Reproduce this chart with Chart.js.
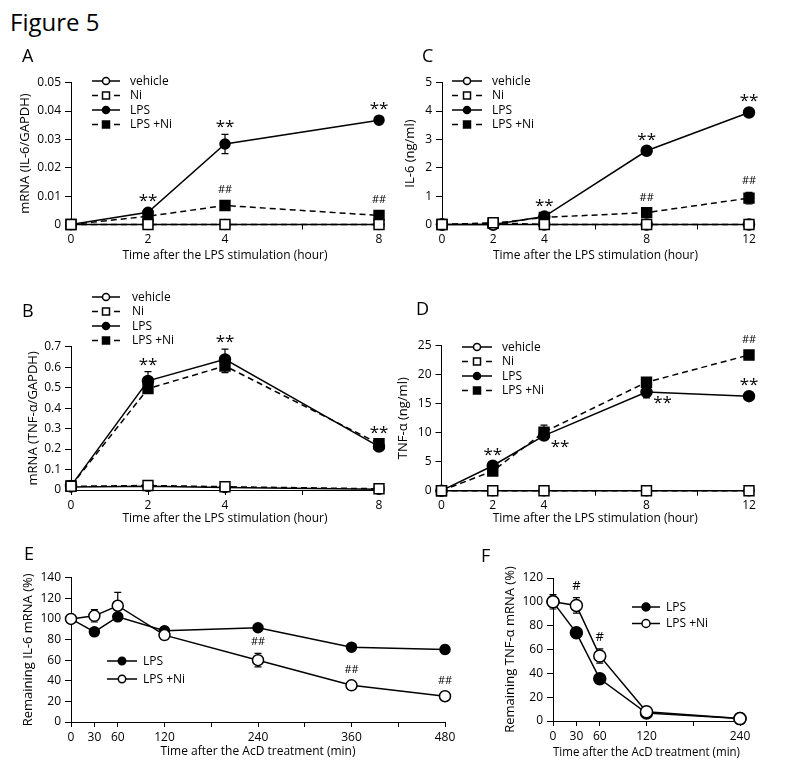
<!DOCTYPE html>
<html><head><meta charset="utf-8">
<script src="https://cdn.jsdelivr.net/npm/chart.js@4.4.1/dist/chart.umd.min.js"></script>
<style>
html,body{margin:0;padding:0;background:#fff;}
body{width:790px;height:765px;position:relative;overflow:hidden;font-family:'Open Sans','DejaVu Sans',sans-serif;color:#000;}
canvas{position:absolute;}
.lbl{position:absolute;line-height:20px;z-index:2;}
</style></head><body>
<div class="lbl" style="left:10px;top:8px;font-size:24px;line-height:28px;">Figure 5</div>
<div class="lbl" style="left:22px;top:45px;font-size:18px;">A</div>
<div class="lbl" style="left:422px;top:45px;font-size:18px;">C</div>
<div class="lbl" style="left:22px;top:300px;font-size:18px;">B</div>
<div class="lbl" style="left:416px;top:298px;font-size:18px;">D</div>
<div class="lbl" style="left:24px;top:543px;font-size:18px;">E</div>
<div class="lbl" style="left:481px;top:545px;font-size:18px;">F</div>
<script>
// ---------------- DATA ----------------
// Panel A: IL-6 mRNA (IL-6/GAPDH)
const hoursAB = [0, 2, 4, 8];
const aVehicle = [0, 0, 0, 0];
const aNi = [0, 0, 0, 0];
const aLPS = [0, 0.0043, 0.0284, 0.0368];
const aLPSErr = [0, 0.0004, 0.0034, 0.0008];
const aLPSNi = [0, 0.0029, 0.0067, 0.0032];
const aLPSNiErr = [0, 0.0003, 0.0006, 0.0004];
const aLPSMarks = ['', '**', '**', '**'];
const aLPSNiMarks = ['', '', '##', '##'];

// Panel B: TNF-α mRNA (TNF-α/GAPDH)
const bVehicle = [0.015, 0.018, 0.012, 0.004];
const bNi = [0.018, 0.022, 0.016, 0.006];
const bLPS = [0.02, 0.533, 0.638, 0.212];
const bLPSErr = [0, 0.045, 0.05, 0.01];
const bLPSNi = [0.02, 0.495, 0.606, 0.226];
const bLPSNiErr = [0, 0.02, 0.033, 0.01];
const bLPSMarks = ['', '**', '**', ''];
const bLPSNiMarks = ['', '', '', '**'];

// Panel C: IL-6 (ng/ml)
const hoursCD = [0, 2, 4, 8, 12];
const cVehicle = [0, 0, 0, 0, 0];
const cNi = [0, 0.06, 0, 0, 0];
const cLPS = [0, 0, 0.28, 2.6, 3.95];
const cLPSErr = [0, 0, 0.05, 0.05, 0.06];
const cLPSNi = [0, 0.04, 0.25, 0.42, 0.93];
const cLPSNiErr = [0, 0, 0.03, 0.05, 0.2];
const cLPSMarks = ['', '', '**', '**', '**'];
const cLPSNiMarks = ['', '', '', '##', '##'];

// Panel D: TNF-α (ng/ml)
const dVehicle = [0, 0, 0, 0, 0];
const dNi = [0, 0, 0, 0, 0];
const dLPS = [0, 4.3, 9.5, 17.0, 16.3];
const dLPSErr = [0, 0.5, 0.5, 1.0, 0.4];
const dLPSNi = [0, 3.4, 10.1, 18.7, 23.4];
const dLPSNiErr = [0, 0.4, 1.2, 0.5, 0.4];
const dLPSMarks = ['', '**', '**', '**', '**'];
const dLPSNiMarks = ['', '', '', '', '##'];

// Panel E: remaining IL-6 mRNA (%)
const minutesE = [0, 30, 60, 120, 240, 360, 480];
const eLPS = [100, 87.5, 102, 88.5, 91.4, 72.6, 70.3];
const eLPSErr = [0, 2.5, 3, 3, 1.5, 2, 4];
const eLPSNi = [100, 103, 112.8, 84.3, 60, 35.6, 25];
const eLPSNiErr = [0, 6, 13, 4, 6.5, 2, 1.5];
const eLPSNiMarks = ['', '', '', '', '##', '##', '##'];

// Panel F: remaining TNF-α mRNA (%)
const minutesF = [0, 30, 60, 120, 240];
const fLPS = [100, 74, 35.4, 6.7, 2];
const fLPSErr = [6, 2, 2, 1, 0.5];
const fLPSNi = [100, 97, 54.6, 7.8, 2];
const fLPSNiErr = [3, 6.5, 6, 1, 0.5];
const fLPSNiMarks = ['', '#', '#', '', ''];

// Tick values and labels
const abXTicks = [0, 2, 4, 6, 8];
const abXLabels = ['0', '2', '4', '', '8'];
const cdXTicks = [0, 2, 4, 6, 8, 10, 12];
const cdXLabels = ['0', '2', '4', '', '8', '', '12'];
const eXTicks = [0, 30, 60, 120, 180, 240, 300, 360, 420, 480];
const eXLabels = ['0', '30', '60', '120', '', '240', '', '360', '', '480'];
const fXTicks = [0, 30, 60, 120, 180, 240];
const fXLabels = ['0', '30', '60', '120', '', '240'];
const aYTicks = [0, 0.01, 0.02, 0.03, 0.04, 0.05];
const aYLabels = ['0', '0.01', '0.02', '0.03', '0.04', '0.05'];
const bYTicks = [0, 0.1, 0.2, 0.3, 0.4, 0.5, 0.6, 0.7];
const bYLabels = ['0', '0.1', '0.2', '0.3', '0.4', '0.5', '0.6', '0.7'];
const cYTicks = [0, 1, 2, 3, 4, 5];
const cYLabels = ['0', '1', '2', '3', '4', '5'];
const dYTicks = [0, 5, 10, 15, 20, 25];
const dYLabels = ['0', '5', '10', '15', '20', '25'];
const eYTicks = [0, 20, 40, 60, 80, 100, 120, 140];
const eYLabels = ['0', '20', '40', '60', '80', '100', '120', '140'];
const fYTicks = [0, 20, 40, 60, 80, 100, 120];
const fYLabels = ['0', '20', '40', '60', '80', '100', '120'];

const lblVehicle = 'vehicle', lblNi = 'Ni', lblLPS = 'LPS', lblLPSNi = 'LPS +Ni';

// ---------------- RENDERING ----------------
const FONT = "'Open Sans','DejaVu Sans',sans-serif";

function series(label, xs, ys, st, extra) {
  return Object.assign({
    label,
    data: xs.map((x, i) => ({x, y: ys[i]})),
    borderColor: '#000', borderWidth: 1.5,
    borderDash: st.dash ? [6, 4] : [],
    pointStyle: st.shape, pointRadius: st.r,
    pointBackgroundColor: st.filled ? '#000' : '#fff',
    pointBorderColor: '#000', pointBorderWidth: 1.5,
    fill: false, tension: 0, clip: false, order: st.order
  }, extra || {});
}

function centerText(ctx, text, cx, cy) {
  const m = ctx.measureText(text);
  const base = cy + (m.actualBoundingBoxAscent - m.actualBoundingBoxDescent) / 2;
  ctx.textAlign = 'center';
  ctx.textBaseline = 'alphabetic';
  ctx.fillText(text, cx, base);
}

const decor = {
  id: 'decor',
  beforeDatasetsDraw(chart) {
    const ctx = chart.ctx, xs = chart.scales.x, ys = chart.scales.y;
    ctx.save();
    ctx.strokeStyle = '#000'; ctx.lineWidth = 1.2; ctx.setLineDash([]);
    chart.data.datasets.forEach(ds => {
      if (!ds.errorBars) return;
      ds.data.forEach((p, i) => {
        const e = ds.errorBars[i]; if (!e) return;
        const px = xs.getPixelForValue(p.x);
        const t = ys.getPixelForValue(p.y + e), b = ys.getPixelForValue(p.y - e);
        ctx.beginPath();
        ctx.moveTo(px, t); ctx.lineTo(px, b);
        ctx.moveTo(px - 3.5, t); ctx.lineTo(px + 3.5, t);
        ctx.moveTo(px - 3.5, b); ctx.lineTo(px + 3.5, b);
        ctx.stroke();
      });
    });
    ctx.restore();
  },
  afterDatasetsDraw(chart, args, opts) {
    const ctx = chart.ctx, xs = chart.scales.x, ys = chart.scales.y;
    ctx.save();
    ctx.fillStyle = '#000';
    // significance marks
    chart.data.datasets.forEach(ds => {
      if (!ds.marks) return;
      ds.data.forEach((p, i) => {
        const t = ds.marks[i]; if (!t) return;
        const star = t.indexOf('*') >= 0;
        ctx.font = (star ? '17px ' : (t.length === 1 ? '13px ' : '11px ')) + FONT;
        const px = xs.getPixelForValue(p.x);
        const place = ds.markPlace ? ds.markPlace[i] : 'above';
        if (place === 'right') {
          centerText(ctx, t, px + 16, ys.getPixelForValue(p.y) + 8);
        } else {
          const e = ds.errorBars ? (ds.errorBars[i] || 0) : 0;
          const top = Math.min(ys.getPixelForValue(p.y + e), ys.getPixelForValue(p.y) - 4);
          centerText(ctx, t, px, top - (star ? 10 : 12));
        }
      });
    });
    // legend
    const L = opts.legend;
    if (L) {
      const ox = chart.canvas.offsetLeft, oy = chart.canvas.offsetTop;
      L.items.forEach((idx, k) => {
        const ds = chart.data.datasets[idx];
        const y = L.y + k * L.dy - oy, x0 = L.x0 - ox, x1 = L.x1 - ox, xm = (x0 + x1) / 2;
        ctx.strokeStyle = '#000'; ctx.lineWidth = 1.5; ctx.setLineDash([]);
        ctx.beginPath();
        if (ds.borderDash && ds.borderDash.length) {
          ctx.moveTo(x0, y); ctx.lineTo(x0 + 6, y);
          ctx.moveTo(x1 - 6, y); ctx.lineTo(x1, y);
        } else {
          ctx.moveTo(x0, y); ctx.lineTo(x1, y);
        }
        ctx.stroke();
        ctx.fillStyle = ds.pointBackgroundColor;
        ctx.beginPath();
        if (ds.pointStyle === 'rect') {
          const s = L.r * 1.0;
          ctx.rect(xm - s, y - s, 2 * s, 2 * s);
        } else {
          ctx.arc(xm, y, L.r, 0, Math.PI * 2);
        }
        ctx.fill(); ctx.stroke();
        ctx.fillStyle = '#000';
        ctx.font = '12px ' + FONT;
        ctx.textAlign = 'left'; ctx.textBaseline = 'middle';
        ctx.fillText(ds.label, L.tx - ox, y + 0.5);
      });
    }
    ctx.restore();
  }
};

function panel(p) {
  const cv = document.createElement('canvas');
  cv.width = p.box.w; cv.height = p.box.h;
  cv.style.left = p.box.x + 'px'; cv.style.top = p.box.y + 'px';
  cv.style.width = p.box.w + 'px'; cv.style.height = p.box.h + 'px';
  document.body.appendChild(cv);
  const tickFont = {family: FONT, size: 12};
  const titleFont = {family: FONT, size: 12, lineHeight: 1.2};
  const yTitleFont = {family: FONT, size: 13, lineHeight: 1.2};
  const axisCommon = {
    type: 'linear',
    grid: {display: true, drawOnChartArea: false, drawTicks: true, tickLength: 5, color: '#000', lineWidth: 1},
    border: {display: true, color: '#000', width: 1}
  };
  new Chart(cv, {
    type: 'line',
    data: {datasets: p.datasets},
    options: {
      responsive: false, animation: false, devicePixelRatio: 1,
      layout: {padding: {left: 0, bottom: 0, top: p.area.top - p.box.y, right: p.box.x + p.box.w - p.area.right}},
      plugins: {legend: {display: false}, tooltip: {enabled: false}, decor: {legend: p.legend}},
      scales: {
        x: Object.assign({}, axisCommon, {
          min: p.xTicks[0], max: p.xTicks[p.xTicks.length - 1],
          afterBuildTicks: s => { s.ticks = p.xTicks.map(v => ({value: v})); },
          afterFit: s => { s.height = p.box.y + p.box.h - p.area.bottom; },
          ticks: {autoSkip: false, maxRotation: 0, minRotation: 0, padding: 3, color: '#000', font: tickFont,
                  callback: (v, i) => p.xLabels[i]},
          title: {display: true, text: p.xTitle, color: '#000', font: titleFont, padding: {top: 0, bottom: p.xTitlePad}}
        }),
        y: Object.assign({}, axisCommon, {
          min: p.yTicks[0], max: p.yTicks[p.yTicks.length - 1],
          afterBuildTicks: s => { s.ticks = p.yTicks.map(v => ({value: v})); },
          afterFit: s => { s.width = p.area.left - p.box.x; },
          ticks: {autoSkip: false, padding: 4, color: '#000', font: tickFont,
                  callback: (v, i) => p.yLabels[i]},
          grid: Object.assign({}, axisCommon.grid, {tickLength: 6}),
          title: {display: true, text: p.yTitle, color: '#000', font: yTitleFont, padding: {top: p.yTitlePad - 0.6, bottom: 0}}
        })
      }
    },
    plugins: [decor]
  });
}

const ST = {
  vehicle: {shape: 'circle', filled: false, dash: false},
  ni: {shape: 'rect', filled: false, dash: true},
  lps: {shape: 'circle', filled: true, dash: false},
  lpsni: {shape: 'rect', filled: true, dash: true}
};
function st(base, r, order) { return Object.assign({}, base, {r, order}); }

const hourTitle = 'Time after the LPS stimulation (hour)';
const acdTitle = 'Time after the AcD treatment (min)';

// Panel A
panel({
  box: {x: 0, y: 60, w: 395, h: 210}, area: {left: 71, top: 82.7, right: 379, bottom: 224.5},
  xTicks: abXTicks, xLabels: abXLabels, yTicks: aYTicks, yLabels: aYLabels,
  xTitle: hourTitle, yTitle: 'mRNA (IL-6/GAPDH)', xTitlePad: 6.8, yTitlePad: 17.8,
  datasets: [
    series(lblVehicle, hoursAB, aVehicle, st(ST.vehicle, 5, 1)),
    series(lblNi, hoursAB, aNi, st(ST.ni, 7, 0)),
    series(lblLPS, hoursAB, aLPS, st(ST.lps, 5, 2), {errorBars: aLPSErr, marks: aLPSMarks}),
    series(lblLPSNi, hoursAB, aLPSNi, st(ST.lpsni, 7, 3), {errorBars: aLPSNiErr, marks: aLPSNiMarks})
  ],
  legend: {items: [0, 1, 2, 3], x0: 92, x1: 120, tx: 130, y: 81, dy: 14.5, r: 3.5}
});

// Panel C
panel({
  box: {x: 395, y: 60, w: 395, h: 210}, area: {left: 442, top: 82.7, right: 749, bottom: 224.5},
  xTicks: cdXTicks, xLabels: cdXLabels, yTicks: cYTicks, yLabels: cYLabels,
  xTitle: hourTitle, yTitle: 'IL-6 (ng/ml)', xTitlePad: 6.8, yTitlePad: 7.8,
  datasets: [
    series(lblVehicle, hoursCD, cVehicle, st(ST.vehicle, 5.5, 1)),
    series(lblNi, hoursCD, cNi, st(ST.ni, 7, 0)),
    series(lblLPS, hoursCD, cLPS, st(ST.lps, 5.5, 2), {errorBars: cLPSErr, marks: cLPSMarks}),
    series(lblLPSNi, hoursCD, cLPSNi, st(ST.lpsni, 7, 3), {errorBars: cLPSNiErr, marks: cLPSNiMarks})
  ],
  legend: {items: [0, 1, 2, 3], x0: 452, x1: 482, tx: 492, y: 81, dy: 14.5, r: 3.5}
});

// Panel B
panel({
  box: {x: 0, y: 285, w: 395, h: 245}, area: {left: 71, top: 346.7, right: 379, bottom: 490},
  xTicks: abXTicks, xLabels: abXLabels, yTicks: bYTicks, yLabels: bYLabels,
  xTitle: hourTitle, yTitle: 'mRNA (TNF-α/GAPDH)', xTitlePad: 3.8, yTitlePad: 25.8,
  datasets: [
    series(lblVehicle, hoursAB, bVehicle, st(ST.vehicle, 5, 1)),
    series(lblNi, hoursAB, bNi, st(ST.ni, 7, 0)),
    series(lblLPS, hoursAB, bLPS, st(ST.lps, 5.5, 3), {errorBars: bLPSErr, marks: bLPSMarks}),
    series(lblLPSNi, hoursAB, bLPSNi, st(ST.lpsni, 7, 2), {errorBars: bLPSNiErr, marks: bLPSNiMarks})
  ],
  legend: {items: [0, 1, 2, 3], x0: 92, x1: 120, tx: 132, y: 297, dy: 14.5, r: 3.5}
});

// Panel D
panel({
  box: {x: 395, y: 285, w: 395, h: 245}, area: {left: 441.5, top: 345.7, right: 749, bottom: 490.7},
  xTicks: cdXTicks, xLabels: cdXLabels, yTicks: dYTicks, yLabels: dYLabels,
  xTitle: hourTitle, yTitle: 'TNF-α (ng/ml)', xTitlePad: 3.8, yTitlePad: 0.8,
  datasets: [
    series(lblVehicle, hoursCD, dVehicle, st(ST.vehicle, 5, 1)),
    series(lblNi, hoursCD, dNi, st(ST.ni, 7, 0)),
    series(lblLPS, hoursCD, dLPS, st(ST.lps, 5.5, 2), {errorBars: dLPSErr, marks: dLPSMarks,
      markPlace: ['above', 'above', 'right', 'right', 'above']}),
    series(lblLPSNi, hoursCD, dLPSNi, st(ST.lpsni, 7, 3), {errorBars: dLPSNiErr, marks: dLPSNiMarks})
  ],
  legend: {items: [0, 1, 2, 3], x0: 462, x1: 492, tx: 502, y: 347, dy: 14.5, r: 3.5}
});

// Panel E
panel({
  box: {x: 0, y: 560, w: 470, h: 205}, area: {left: 71, top: 577.7, right: 445, bottom: 722},
  xTicks: eXTicks, xLabels: eXLabels, yTicks: eYTicks, yLabels: eYLabels,
  xTitle: acdTitle, yTitle: 'Remaining IL-6 mRNA (%)', xTitlePad: 6.1, yTitlePad: 20.8,
  datasets: [
    series(lblLPS, minutesE, eLPS, st(ST.lps, 5, 1), {errorBars: eLPSErr}),
    series(lblLPSNi, minutesE, eLPSNi, st(ST.vehicle, 5.5, 0), {errorBars: eLPSNiErr, marks: eLPSNiMarks})
  ],
  legend: {items: [0, 1], x0: 107, x1: 137, tx: 143, y: 661, dy: 18, r: 3.7}
});

// Panel F
panel({
  box: {x: 470, y: 560, w: 320, h: 205}, area: {left: 553, top: 578, right: 740, bottom: 721},
  xTicks: fXTicks, xLabels: fXLabels, yTicks: fYTicks, yLabels: fYLabels,
  xTitle: acdTitle, yTitle: 'Remaining TNF-α mRNA (%)', xTitlePad: 5.5, yTitlePad: 32.8,
  datasets: [
    series(lblLPS, minutesF, fLPS, st(ST.lps, 6, 1), {errorBars: fLPSErr}),
    series(lblLPSNi, minutesF, fLPSNi, st(ST.vehicle, 6, 0), {errorBars: fLPSNiErr, marks: fLPSNiMarks})
  ],
  legend: {items: [0, 1], x0: 632, x1: 660, tx: 666, y: 607, dy: 16.5, r: 4}
});
</script>
</body></html>
